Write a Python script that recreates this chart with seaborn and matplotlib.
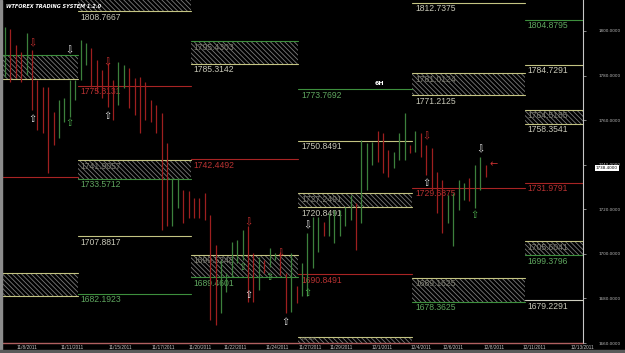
import numpy as np
import pandas as pd
import matplotlib
matplotlib.use("Agg")
import matplotlib.pyplot as plt
import matplotlib.transforms as mtrans
from matplotlib.patches import Rectangle
import seaborn as sns

# ---------------- data ----------------
bar_high = [1801.9, 1800.7, 1793.7, 1790.7, 1798.9, 1791.4, 1778.0, 1775.0, 1775.0, 1763.8,
            1769.0, 1769.8, 1778.0, 1778.0, 1795.9, 1794.4, 1792.2, 1787.0, 1782.5, 1785.5,
            1778.0, 1786.2, 1784.7, 1783.2, 1778.7, 1779.5, 1777.3, 1769.0, 1766.8, 1763.0,
            1749.6, 1733.9, 1733.9, 1728.7, 1728.0, 1725.0, 1725.0, 1727.2, 1717.5, 1704.0,
            1697.3, 1691.3, 1705.5, 1706.3, 1710.8, 1712.3, 1700.3, 1698.8, 1697.3, 1702.5,
            1700.3, 1701.0, 1691.3, 1700.3, 1685.4, 1695.8, 1709.3, 1716.7, 1716.7,
            1714.5, 1718.2, 1719.7, 1719.7, 1721.2, 1726.4, 1722.7, 1751.1, 1749.6, 1750.4,
            1754.9, 1754.1, 1746.6, 1745.9, 1754.1, 1763.1, 1748.9, 1754.9, 1754.1, 1748.9,
            1747.4, 1736.9, 1733.2, 1726.4, 1727.2, 1733.2, 1731.7, 1733.9, 1739.9, 1743.6, 1739.9]
bar_low = [1779.5, 1777.2, 1778.8, 1777.2, 1780.2, 1764.6, 1755.6, 1754.1, 1736.2, 1748.9,
           1751.8, 1759.3, 1761.6, 1769.0, 1778.0, 1784.7, 1775.0, 1772.8, 1769.8, 1766.1,
           1760.1, 1766.8, 1774.3, 1765.3, 1762.3, 1754.1, 1760.1, 1759.3, 1754.1, 1710.7,
           1712.3, 1712.3, 1720.5, 1713.8, 1716.0, 1716.0, 1716.0, 1715.2, 1670.4, 1668.2,
           1673.4, 1683.1, 1689.8, 1695.8, 1697.3, 1678.6, 1678.6, 1683.9, 1691.3, 1694.3,
           1697.3, 1690.6, 1673.4, 1674.1, 1677.9, 1680.9, 1680.9, 1693.6, 1701.0,
           1707.8, 1707.8, 1704.8, 1707.8, 1712.3, 1715.2, 1701.8, 1713.8, 1728.7, 1739.9,
           1741.4, 1736.2, 1734.7, 1738.4, 1742.2, 1742.2, 1745.1, 1745.9, 1743.6, 1735.4,
           1728.7, 1718.2, 1709.3, 1713.8, 1703.3, 1719.7, 1724.2, 1723.5, 1720.5, 1728.7, 1734.7]
bar_dir = list("GRRRGRRRRRGGGGGGRRRRRGGRRRRRRR"
               "RGGRRRRRRRGGGGGRRGRGGRRGRGGGG"
               "RGGGGGRGGGRRRGGGRGRRRRRGGGGRGGR")

# weekly level segments (in bar units)
seg_start = [-25.0, 13.5, 34.4, 54.3, 75.4, 96.3]
seg_end = [13.5, 34.4, 54.3, 75.4, 96.3, 130.0]

line_seg = [0, 1, 1, 1, 2, 3, 3, 3, 4, 4, 5, 5, 5, 5]
line_price = [1734.7, 1775.3131, 1707.8817, 1682.1923, 1742.4492, 1773.7692, 1750.8491,
              1690.8491, 1812.7375, 1729.6875, 1804.8795, 1784.7291, 1731.9791, 1679.2291]
line_kind = ["red", "red", "yellow", "green", "red", "green", "yellow",
             "red", "yellow", "red", "green", "yellow", "red", "white"]

box_seg = [0, 0, 1, 1, 2, 2, 3, 3, 4, 4, 5, 5]
box_top = [1789.2, 1691.5, 1817.0, 1741.9057, 1795.4303, 1699.5248, 1727.2491, 1662.8491,
           1781.0124, 1689.1625, 1764.5185, 1705.6041]
box_bottom = [1778.5, 1681.2, 1808.7667, 1733.5712, 1785.3142, 1689.4601, 1720.8491, 1655.0,
              1771.2125, 1678.3625, 1758.3541, 1699.3796]
box_top_kind = ["green", "yellow", "yellow", "yellow", "green", "yellow", "yellow", "yellow",
                "yellow", "yellow", "yellow", "yellow"]
box_bottom_kind = ["yellow", "yellow", "yellow", "green", "yellow", "green", "yellow", "yellow",
                   "yellow", "green", "yellow", "green"]

arrow_bar = [5, 12, 5, 12, 19, 19, 45, 44, 45, 49, 51, 52, 56, 56, 78, 78, 88, 87, 90.4]
arrow_price = [1794.6, 1791.5, 1760.5, 1758.7, 1786.1, 1761.9, 1714.3, 1694.2, 1681.6, 1689.7,
               1700.4, 1669.5, 1712.6, 1682.5, 1752.5, 1731.8, 1747.1, 1717.5, 1740.0]
arrow_kind = ["red_dn", "white_dn", "white_up", "green_up", "red_dn", "white_up", "red_dn",
              "green_up", "white_up", "green_up", "red_dn", "white_up", "white_dn", "green_up",
              "red_dn", "white_up", "white_dn", "green_up", "red_left"]

date_pos = [4.1, 12.4, 21.3, 29.3, 36.1, 42.6, 50.4, 56.5, 62.2, 69.8, 77.0, 83.0, 90.6, 98.0, 106.9]
date_labels = ["11/8/2011", "11/11/2011", "11/15/2011", "11/17/2011", "11/20/2011",
               "11/22/2011", "11/24/2011", "11/27/2011", "11/29/2011", "12/1/2011",
               "12/4/2011", "12/6/2011", "12/8/2011", "12/11/2011", "12/13/2011"]
price_ticks = [1660, 1680, 1700, 1720, 1740, 1760, 1780, 1800]
last_price = 1738.4

# ---------------- styling ----------------
sns.set_theme(style="dark", rc={"axes.facecolor": "black", "figure.facecolor": "black",
                                "axes.grid": False})
plt.rcParams["hatch.linewidth"] = 0.6
plt.rcParams["hatch.color"] = "#7a7a7a"
LBL_FONT = ["Liberation Sans Narrow", "Liberation Sans", "DejaVu Sans"]

line_colors = {"red": "#a82424", "green": "#3d8f3d", "yellow": "#c4c482", "white": "#cfcfc0"}
label_colors = {"red": "#b83232", "green": "#5fa65f", "yellow": "#c8c8b8", "white": "#c8c8b8"}
bar_colors = {"R": "#9e1f1f", "G": "#3c803c"}
arrow_style = {"white_up": ("\u21e7", "#e6e6e6"), "white_dn": ("\u21e9", "#e6e6e6"),
               "green_up": ("\u21e7", "#4fb04f"), "red_dn": ("\u21e9", "#c83030"),
               "red_left": ("\u2190", "#c83030")}

YMIN, YMAX = 1660.1, 1813.9
fig = plt.figure(figsize=(6.25, 3.53), dpi=100)
ax = fig.add_axes([3 / 625, 10 / 353, 580 / 625, 343 / 353])
ax.set_xlim(-0.37, 107.04)
ax.set_ylim(YMIN, YMAX)

# hatched zones
for s, t, b in zip(box_seg, box_top, box_bottom):
    ax.add_patch(Rectangle((seg_start[s], b), seg_end[s] - seg_start[s], t - b,
                           facecolor="none", edgecolor="#7a7a7a", hatch="\\" * 7,
                           lw=0, zorder=1))

# level lines and zone edges (seaborn)
rows = []
for i, (s, p, k) in enumerate(zip(line_seg, line_price, line_kind)):
    rows += [dict(x=seg_start[s], y=p, id=f"l{i}", kind=k),
             dict(x=seg_end[s], y=p, id=f"l{i}", kind=k)]
for i, (s, t, b, kt, kb) in enumerate(zip(box_seg, box_top, box_bottom, box_top_kind, box_bottom_kind)):
    rows += [dict(x=seg_start[s], y=t, id=f"t{i}", kind=kt),
             dict(x=seg_end[s], y=t, id=f"t{i}", kind=kt),
             dict(x=seg_start[s], y=b, id=f"b{i}", kind=kb),
             dict(x=seg_end[s], y=b, id=f"b{i}", kind=kb)]
lv = pd.DataFrame(rows)
sns.lineplot(data=lv, x="x", y="y", units="id", estimator=None, hue="kind",
             palette=line_colors, legend=False, lw=0.8, sort=False, ax=ax, zorder=2)


def level_label(x, y, txt, color):
    # a label whose level sits right on the bottom edge is squeezed to fit
    size = 6.2 if (y - YMIN) > 4 else 2.4
    ax.annotate(txt, (x, y), xytext=(2, -1.0 if size > 3 else -0.4),
                textcoords="offset points", ha="left", va="top", fontsize=size,
                color=color, family=LBL_FONT, clip_on=True, zorder=3)


for s, p, k in zip(line_seg, line_price, line_kind):
    level_label(seg_start[s], p, f"{p:.4f}", label_colors[k])
for s, t, b, kb in zip(box_seg, box_top, box_bottom, box_bottom_kind):
    level_label(seg_start[s], t, f"{t:.4f}", "#7e7e72")
    level_label(seg_start[s], b, f"{b:.4f}", label_colors[kb])

# price bars (high-low)
xs = np.arange(len(bar_high))
ax.vlines(xs, bar_low, bar_high, colors=[bar_colors[d] for d in bar_dir], lw=0.9, zorder=4)

# signal arrows
for bx, p, k in zip(arrow_bar, arrow_price, arrow_kind):
    g, c = arrow_style[k]
    ax.text(bx, p, g, color=c, fontsize=7, ha="center", va="center",
            family="DejaVu Sans", clip_on=True, zorder=5)

ax.text(69.4, 1776.6, "6H", color="white", fontsize=4.5, weight="bold",
        ha="center", va="center", family="DejaVu Sans", zorder=5)

# axes cosmetics
ax.yaxis.tick_right()
ax.set_yticks(price_ticks)
ax.set_yticklabels([f"{v:.4f}" for v in price_ticks])
ax.tick_params(axis="y", colors="#bdbdbd", labelsize=3, length=2, width=0.5, pad=9)
ax.set_xticks(date_pos)
ax.set_xticklabels(date_labels)
ax.tick_params(axis="x", colors="#c8c8c8", labelsize=3.4, length=0, pad=1.5)
for lab in ax.get_yticklabels():
    lab.set_family("DejaVu Sans")
for lab in ax.get_xticklabels():
    lab.set_family(LBL_FONT)
ax.set_xlabel("")
ax.set_ylabel("")
for side in ("left", "top"):
    ax.spines[side].set_visible(False)
ax.spines["right"].set_color("#c8c8c8")
ax.spines["right"].set_linewidth(0.8)
ax.spines["bottom"].set_color("#b06060")
ax.spines["bottom"].set_linestyle((0, (1, 1)))
ax.spines["bottom"].set_linewidth(1.0)

trans = mtrans.blended_transform_factory(ax.transAxes, ax.transData)
ax.text(1.022, last_price, f"{last_price:.4f}", transform=trans, fontsize=3, color="black",
        family="DejaVu Sans", ha="left", va="center", clip_on=False,
        bbox=dict(facecolor="white", edgecolor="none", pad=0.6), zorder=6)

fig.text(6 / 625, 1 - 6 / 353, "WTFOREX TRADING SYSTEM 1.2.0", fontsize=3.6,
         weight="bold", style="italic", color="white", va="center", family="DejaVu Sans")
fig.patches.append(Rectangle((0, 0), 2 / 625, 1, transform=fig.transFigure,
                             color="#8c8c8c", zorder=0))
fig.patches.append(Rectangle((0, 0), 1, 3 / 353, transform=fig.transFigure,
                             color="#5a5a5a", zorder=0))

fig.savefig("out.png", dpi=100, facecolor="black")
